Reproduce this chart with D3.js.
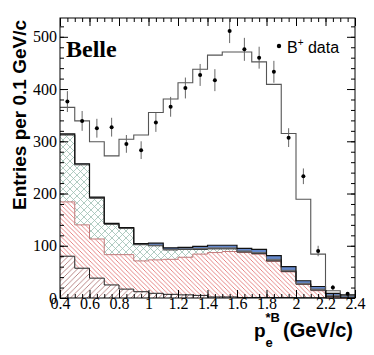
<!DOCTYPE html>
<html lang="en">
<head>
  <meta charset="UTF-8">
  <title>Belle p*B_e spectrum</title>
  <style>body{margin:0;padding:0;background:#fff;} svg{display:block;}</style>
  <script src="https://d3js.org/d3.v7.min.js"></script>
</head>
<body>
  <div id="chart"></div>
  <script>
    // bin low edges (GeV/c), 0.1 wide
    const binEdges = [0.4, 0.5, 0.6, 0.7, 0.8, 0.9, 1.0, 1.1, 1.2, 1.3, 1.4, 1.5, 1.6, 1.7, 1.8, 1.9, 2.0, 2.1, 2.2, 2.3, 2.4];
    // data points
    const dataVals = [376, 339, 325, 327, 295, 283, 336, 366, 402, 427, 417, 511, 476, 460, 433, 307, 233, 90, 20, 8];
    const dataErr  = [20, 19, 18, 18, 17, 17, 18, 19, 20, 21, 21, 23, 22, 21, 21, 18, 15, 10, 5, 3];
    // stacked background components (bottom to top)
    const bkgBrown = [80, 57, 38, 25, 17, 12, 9, 7, 6, 5, 2, 2, 1, 1, 1, 1, 0.5, 0.5, 0, 0];
    const bkgRed   = [104, 83, 75, 58, 66, 59, 64, 67, 72, 79, 85, 87, 86, 83, 69, 49, 25.5, 13.5, 2, 0];
    const bkgGreen = [128, 115, 78, 58, 50, 31, 27, 18, 15, 9, 7, 5, 1, 1, 1, 1, 0.5, 1, 1, 1];
    const bkgGray  = [1, 1, 1, 1, 1, 1, 1, 1, 1, 2, 2, 2, 2, 2, 3, 2, 1.5, 2, 2, 1];
    const bkgBlue  = [1, 1, 1, 1, 1, 1, 4, 3, 3, 4, 5, 5, 5, 6, 7, 7, 5, 5, 4, 4];
    // total MC (signal + background)
    const mcTotal  = [365, 339, 299, 272, 304, 312, 355, 381, 412, 438, 465, 471, 471, 452, 409, 315, 189, 84, 14, 5];
    const xTicks = [0.4, 0.6, 0.8, 1.0, 1.2, 1.4, 1.6, 1.8, 2.0, 2.2, 2.4];
    const yTicks = [0, 100, 200, 300, 400, 500];

    const W = 374, H = 355;
    const svg = d3.select("#chart").append("svg").attr("width", W).attr("height", H);

    const x = d3.scaleLinear().domain([0.4, 2.4]).range([60, 355]);
    const y = d3.scaleLinear().domain([0, 536]).range([298, 18]);

    // hatch patterns
    const defs = svg.append("defs");
    function hatch(id, size, color, dirs, sw) {
      const p = defs.append("pattern").attr("id", id).attr("patternUnits", "userSpaceOnUse")
        .attr("width", size).attr("height", size);
      p.append("rect").attr("width", size).attr("height", size).attr("fill", "#fff");
      dirs.forEach(d => {
        const s = size;
        const segs = d === "\\"
          ? [[-s, 0, s, 2 * s], [0, -s, 2 * s, s], [0, 0, s, s]]
          : [[0, s, s, 0], [-s, s, s, -s], [0, 2 * s, 2 * s, 0]];
        segs.forEach(g => p.append("line").attr("x1", g[0]).attr("y1", g[1]).attr("x2", g[2]).attr("y2", g[3])
          .attr("stroke", color).attr("stroke-width", sw));
      });
    }
    hatch("hBrown", 5.5, "#a86868", ["/"], 0.8);
    hatch("hRed", 4.5, "#e06868", ["\\"], 0.8);
    hatch("hGreen", 7, "#9dbfb2", ["/", "\\"], 0.8);

    // cumulative stacks
    const layers = [bkgBrown, bkgRed, bkgGreen, bkgGray, bkgBlue];
    const cum = [];
    let base = dataVals.map(() => 0);
    layers.forEach(l => {
      const top = base.map((b, i) => b + l[i]);
      cum.push({ lo: base, hi: top });
      base = top;
    });

    function stepPts(lo, hi) {
      const pts = hi.map((v, i) => ({ x: binEdges[i], lo: lo[i], hi: v }));
      pts.push({ x: binEdges[binEdges.length - 1], lo: lo[lo.length - 1], hi: hi[hi.length - 1] });
      return pts;
    }
    const area = d3.area().curve(d3.curveStepAfter).x(d => x(d.x)).y0(d => y(d.lo)).y1(d => y(d.hi));
    const line = d3.line().curve(d3.curveStepAfter).x(d => x(d.x)).y(d => y(d.hi));

    const fills = ["url(#hBrown)", "url(#hRed)", "url(#hGreen)", "#8c8c8c", "#6488cc"];
    const strokes = ["#222", "#c07a7a", "#333", "#666", "#111"];
    const plot = svg.append("g");
    cum.forEach((c, k) => {
      const pts = stepPts(c.lo, c.hi);
      plot.append("path").attr("d", area(pts)).attr("fill", fills[k]).attr("stroke", "none");
    });
    cum.forEach((c, k) => {
      const pts = stepPts(c.lo, c.hi);
      plot.append("path").attr("d", line(pts)).attr("fill", "none")
        .attr("stroke", strokes[k]).attr("stroke-width", k === 4 ? 1.2 : 1);
    });

    // total MC histogram
    const mcPts = stepPts(mcTotal.map(() => 0), mcTotal);
    mcPts.push({ x: 2.4, lo: 0, hi: 0 });
    plot.append("path").attr("d", line(mcPts)).attr("fill", "none")
      .attr("stroke", "#555").attr("stroke-width", 1.1);

    // data points
    const centers = dataVals.map((v, i) => (binEdges[i] + binEdges[i + 1]) / 2);
    const pts = plot.append("g");
    dataVals.forEach((v, i) => {
      pts.append("line").attr("x1", x(centers[i])).attr("x2", x(centers[i]))
        .attr("y1", y(v - dataErr[i])).attr("y2", y(v + dataErr[i]))
        .attr("stroke", "#666").attr("stroke-width", 1);
      pts.append("circle").attr("cx", x(centers[i])).attr("cy", y(v)).attr("r", 2).attr("fill", "#000");
    });

    // axes
    const fmt = d => String(+d.toFixed(1));
    const xMinor = d3.range(0.4, 2.4001, 0.05);
    const yMinor = d3.range(0, 536, 20);
    const ax = svg.append("g");
    function styleAxis(g) {
      g.attr("font-family", "Liberation Serif").attr("font-size", 16);
      g.select(".domain").remove();
      g.selectAll("line").attr("stroke", "#000");
      g.selectAll("text").attr("fill", "#000");
    }
    ax.append("g").attr("transform", "translate(0,298)")
      .call(d3.axisBottom(x).tickValues(xMinor).tickSize(-4).tickFormat("")).call(styleAxis);
    ax.append("g").attr("transform", "translate(0,298)")
      .call(d3.axisBottom(x).tickValues(xTicks).tickSize(-8).tickPadding(0).tickFormat(fmt)).call(styleAxis);
    ax.append("g").attr("transform", "translate(0,18)")
      .call(d3.axisTop(x).tickValues(xMinor).tickSize(-4).tickFormat("")).call(styleAxis);
    ax.append("g").attr("transform", "translate(0,18)")
      .call(d3.axisTop(x).tickValues(xTicks).tickSize(-8).tickFormat("")).call(styleAxis);
    ax.append("g").attr("transform", "translate(60,0)")
      .call(d3.axisLeft(y).tickValues(yMinor).tickSize(-4).tickFormat("")).call(styleAxis);
    ax.append("g").attr("transform", "translate(60,0)")
      .call(d3.axisLeft(y).tickValues(yTicks).tickSize(-8).tickPadding(3).tickFormat(d3.format("d"))).call(styleAxis);
    ax.append("g").attr("transform", "translate(355,0)")
      .call(d3.axisRight(y).tickValues(yMinor).tickSize(-4).tickFormat("")).call(styleAxis);
    ax.append("g").attr("transform", "translate(355,0)")
      .call(d3.axisRight(y).tickValues(yTicks).tickSize(-8).tickFormat("")).call(styleAxis);

    svg.append("rect").attr("x", 60).attr("y", 18).attr("width", 295).attr("height", 280)
      .attr("fill", "none").attr("stroke", "#000").attr("stroke-width", 1);

    // titles
    svg.append("text").attr("transform", "translate(26,115) rotate(-90)")
      .attr("text-anchor", "middle").attr("font-family", "Liberation Sans").attr("font-weight", "bold")
      .attr("font-size", 19).text("Entries per 0.1 GeV/c");

    const xl = svg.append("g").attr("font-family", "Liberation Sans").attr("font-weight", "bold");
    xl.append("text").attr("x", 254).attr("y", 337).attr("font-size", 19).text("p");
    xl.append("text").attr("x", 265.5).attr("y", 322).attr("font-size", 13).text("*B");
    xl.append("text").attr("x", 265.5).attr("y", 347).attr("font-size", 13).text("e");
    xl.append("text").attr("x", 283).attr("y", 337).attr("font-size", 20).text("(GeV/c)");

    svg.append("text").attr("x", 66).attr("y", 56.5).attr("font-family", "Liberation Serif")
      .attr("font-weight", "bold").attr("font-size", 24).text("Belle");

    // legend
    svg.append("circle").attr("cx", 279).attr("cy", 46).attr("r", 2.2).attr("fill", "#000");
    const lg = svg.append("text").attr("x", 287).attr("y", 52.5).attr("font-family", "Liberation Sans")
      .attr("font-size", 16);
    lg.append("tspan").text("B");
    lg.append("tspan").attr("font-size", 10).attr("dy", -7).text("+");
    lg.append("tspan").attr("dy", 7).text(" data");
  </script>
</body>
</html>
